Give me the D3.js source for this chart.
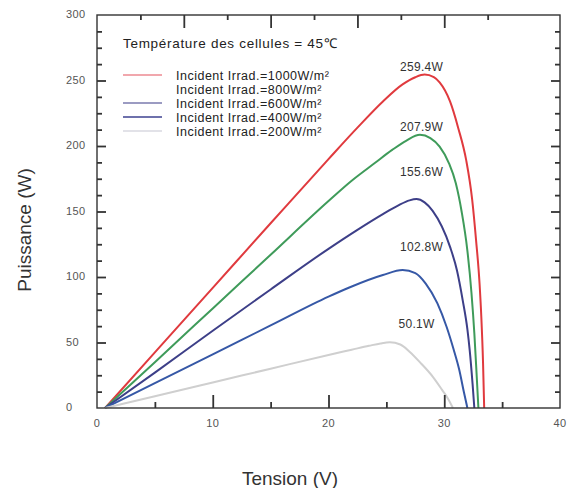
<!DOCTYPE html>
<html>
<head>
<meta charset="utf-8">
<script src="https://cdn.jsdelivr.net/npm/d3@7/dist/d3.min.js"></script>
<style>
  html, body { margin: 0; padding: 0; background: #fff; }
  svg { display: block; font-family: "Liberation Sans", Arial, sans-serif; }
</style>
</head>
<body>
<svg id="chart" width="568" height="488"></svg>
<script>
// irradiance levels and their curves (voltage V, power W)
const irradiances = [1000, 800, 600, 400, 200]
const peakLabels = ["259.4W", "207.9W", "155.6W", "102.8W", "50.1W"]
const curveColors = ["#e03a3e", "#3f9b5a", "#3d3f88", "#3658a6", "#cfcfcf"]
const legendColors = ["#ec8a92", null, "#7a7aae", "#3e4290", "#d8d8e0"]

const curve1000 = [[0.7,0],[5,42.5],[10,91.7],[15,141],[20,190],[22.5,214],[24.7,234],[26.4,247],[27.5,252.5],[28.3,254.5],[29.1,252.5],[29.6,248.5],[30.5,234],[31.2,214],[31.9,189],[32.4,160],[32.75,128],[33.05,95],[33.2,70],[33.35,35],[33.45,0]]
const curve800 = [[0.7,0],[5,35],[10,76],[15,117],[20,158],[22,173.5],[24,187],[25.5,197],[26.7,204],[27.9,208.5],[28.8,206],[29.6,199.5],[30.4,187],[31.0,171.5],[31.5,150],[32.0,120],[32.35,88],[32.6,57],[32.8,25],[32.95,0]]
const curve600 = [[0.7,0],[5,27],[10,59],[15,90.5],[20,121.5],[22.5,136],[24.7,148],[26,154.5],[27,158.5],[27.6,159.5],[28.3,157],[29,150.5],[30.5,123],[31.1,105],[31.6,82],[32.0,60],[32.2,44],[32.45,18],[32.6,0]]
const curve400 = [[0.7,0],[5,19],[10,41],[15,63],[20,85],[21.8,92],[24.7,101.5],[26.4,105.3],[27.5,103],[28.4,95],[29.4,80],[30.2,62],[30.8,45],[31.3,29],[31.7,12],[32.0,0]]
const curve200 = [[0.7,0],[5,9],[10,19.5],[15,30],[20,40.5],[22,44.5],[23.5,47.5],[24.5,49.3],[25.3,50.1],[26.2,48.5],[27,43],[28,34],[29,24],[29.8,14],[30.4,6],[30.75,0]]
const curves = [curve1000, curve800, curve600, curve400, curve200]

const xTicks = [0, 10, 20, 30, 40]
const yTicks = [0, 50, 100, 150, 200, 250, 300]

const svg = d3.select("#chart")
const x = d3.scaleLinear().domain([0, 40]).range([97, 560])
const y = d3.scaleLinear().domain([0, 300]).range([408, 15])
const axisColor = "#333"

// curves
const line = d3.line()
  .x(d => x(d[0]))
  .y(d => y(d[1]))
  .curve(d3.curveMonotoneX)

svg.append("g")
  .selectAll("path")
  .data(curves)
  .join("path")
  .attr("d", line)
  .attr("fill", "none")
  .attr("stroke", (d, i) => curveColors[i])
  .attr("stroke-width", 2)

// peak labels: pixel lift above each maximum, as in the original
const labelLift = [4, 4, 23, 19, 14]
svg.append("g")
  .selectAll("text")
  .data(curves)
  .join("text")
  .attr("x", (d, i) => x(28.3) - (i === 4 ? 8 : 3))
  .attr("y", (d, i) => y(d3.max(d, p => p[1])) - labelLift[i])
  .attr("text-anchor", "middle")
  .attr("font-size", 12)
  .attr("letter-spacing", 0.3)
  .attr("fill", "#333")
  .text((d, i) => peakLabels[i])

// inner ticks through d3 axes, no labels (labels drawn separately below)
function innerAxis(axis, values, size, transform) {
  const g = svg.append("g")
    .attr("transform", transform)
    .call(axis.tickValues(values).tickSizeInner(size).tickSizeOuter(0).tickFormat(""))
  g.select(".domain").remove()
  g.selectAll("line").attr("stroke", axisColor).attr("stroke-width", 1.8)
}
// bottom: 5 V steps
innerAxis(d3.axisBottom(x), [10, 20, 30], -13, `translate(0,${y(0)})`)
innerAxis(d3.axisBottom(x), [5, 15, 25, 35], -6, `translate(0,${y(0)})`)
// top: the original uses a 3.75 V spacing here
innerAxis(d3.axisTop(x), [7.5, 15, 22.5, 30], -13, `translate(0,${y(300)})`)
innerAxis(d3.axisTop(x), [3.75, 11.25, 18.75, 26.25, 33.75], -5, `translate(0,${y(300)})`)
// left / right: 12.5 W steps
const yMajor = d3.range(50, 300, 50)
const yMinor = d3.range(12.5, 300, 12.5).filter(v => v % 50 !== 0)
innerAxis(d3.axisLeft(y), yMajor, -9, `translate(${x(0)},0)`)
innerAxis(d3.axisLeft(y), yMinor, -5, `translate(${x(0)},0)`)
innerAxis(d3.axisRight(y), yMajor, -9, `translate(${x(40)},0)`)
innerAxis(d3.axisRight(y), yMinor, -5, `translate(${x(40)},0)`)

// frame
svg.append("rect")
  .attr("x", x(0)).attr("y", y(300))
  .attr("width", x(40) - x(0)).attr("height", y(0) - y(300))
  .attr("fill", "none")
  .attr("stroke", axisColor)
  .attr("stroke-width", 1.4)

// tick labels
svg.append("g")
  .selectAll("text")
  .data(xTicks)
  .join("text")
  .attr("x", d => x(d))
  .attr("y", y(0) + 19)
  .attr("text-anchor", "middle")
  .attr("font-size", 11)
  .attr("letter-spacing", 0.4)
  .attr("fill", "#555")
  .text(d => d)

svg.append("g")
  .selectAll("text")
  .data(yTicks)
  .join("text")
  .attr("x", 66)
  .attr("y", d => y(d) + 3)
  .attr("font-size", 11)
  .attr("letter-spacing", 0.4)
  .attr("fill", "#555")
  .text(d => d)

// axis titles
svg.append("text")
  .attr("x", 290).attr("y", 485)
  .attr("text-anchor", "middle")
  .attr("font-size", 19)
  .attr("fill", "#333")
  .text("Tension (V)")

svg.append("text")
  .attr("transform", "translate(31,230) rotate(-90)")
  .attr("text-anchor", "middle")
  .attr("font-size", 19)
  .attr("fill", "#333")
  .text("Puissance (W)")

// legend
svg.append("text")
  .attr("x", 123).attr("y", 48)
  .attr("font-size", 13.5)
  .attr("letter-spacing", 0.7)
  .attr("fill", "#222")
  .text("Température des cellules = 45℃")

const legend = svg.append("g")
  .selectAll("g")
  .data(irradiances)
  .join("g")
  .attr("transform", (d, i) => `translate(123,${75 + i * 14})`)

legend.filter((d, i) => legendColors[i])
  .append("line")
  .attr("x1", 0).attr("x2", 39)
  .attr("stroke", d => legendColors[irradiances.indexOf(d)])
  .attr("stroke-width", 1.6)

legend.append("text")
  .attr("x", 53).attr("y", 4.5)
  .attr("font-size", 12.5)
  .attr("letter-spacing", 0.5)
  .attr("fill", "#222")
  .text(d => `Incident Irrad.=${d}W/m²`)
</script>
</body>
</html>
